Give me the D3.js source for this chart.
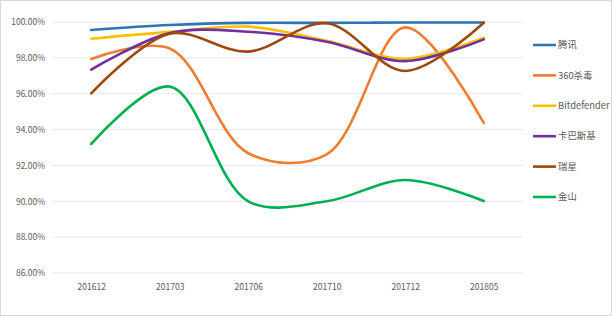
<!DOCTYPE html>
<html><head><meta charset="utf-8">
<script src="https://cdn.jsdelivr.net/npm/d3@7"></script>
<style>body{margin:0;background:#fff}svg{display:block}text{font-family:"Noto Sans CJK SC","Noto Sans",sans-serif;fill:#595959}</style>
</head><body><svg id="c" width="612" height="316"></svg>
<script>
const categories = ["201612","201703","201706","201710","201712","201805"];
const seriesNames = ["腾讯","360杀毒","Bitdefender","卡巴斯基","瑞星","金山"];
const tencent     = [99.55, 99.83, 99.95, 99.95, 99.97, 99.97];
const qihoo360    = [97.94, 98.52, 92.68, 92.62, 99.70, 94.37];
const bitdefender = [99.07, 99.45, 99.74, 98.95, 97.95, 99.12];
const kaspersky   = [97.35, 99.38, 99.46, 98.90, 97.82, 99.03];
const rising      = [96.02, 99.35, 98.35, 99.93, 97.27, 99.96];
const kingsoft    = [93.20, 96.40, 90.00, 90.00, 91.19, 90.02];
const yTicks = [86, 88, 90, 92, 94, 96, 98, 100];
const colors = ["#2E75B6","#ED7D31","#FFC000","#7030A0","#9E480E","#00B050"];
const allValues = [tencent, qihoo360, bitdefender, kaspersky, rising, kingsoft];

const svg = d3.select("#c");
svg.append("rect").attr("x",0.5).attr("y",0.5).attr("width",611).attr("height",315)
  .attr("fill","#fff").attr("stroke","#D9D9D9");

const x = d3.scalePoint().domain(categories).range([52,523]).padding(0.5);
const y = d3.scaleLinear().domain([86,100]).range([273,22]);

const grid = svg.append("g");
grid.selectAll("line").data(yTicks).join("line")
  .attr("x1",52).attr("x2",523).attr("y1",d=>y(d)).attr("y2",d=>y(d))
  .attr("stroke","#E8E8EE").attr("stroke-width",1);

const yAxis = d3.axisLeft(y).tickValues(yTicks).tickFormat(d=>d.toFixed(2)+"%").tickSize(0).tickPadding(7);
const ga = svg.append("g").attr("transform","translate(52,0)").call(yAxis);
ga.select(".domain").remove();
ga.selectAll("text").style("font-size","8.5px").attr("fill","#595959");

const xAxis = d3.axisBottom(x).tickSize(0).tickPadding(8);
const gx = svg.append("g").attr("transform","translate(0,276)").call(xAxis);
gx.select(".domain").remove();
gx.selectAll("text").style("font-size","8.5px").attr("fill","#595959");

const line = d3.line().x((d,i)=>x(categories[i])).y(d=>y(d)).curve(d3.curveCatmullRom.alpha(0.5));
svg.append("g").selectAll("path").data(allValues).join("path")
  .attr("d",d=>line(d)).attr("fill","none")
  .attr("stroke",(d,i)=>colors[i]).attr("stroke-width",2.6).attr("stroke-linecap","round");

const lg = svg.append("g");
const items = lg.selectAll("g").data(seriesNames).join("g")
  .attr("transform",(d,i)=>`translate(533,${45+i*30.4})`);
items.append("line").attr("x1",0).attr("x2",23).attr("y1",0).attr("y2",0)
  .attr("stroke",(d,i)=>colors[i]).attr("stroke-width",2.6);
items.append("text").attr("x",25).attr("y",0).attr("dy","0.35em")
  .style("font-size","9.4px").text(d=>d);
</script></body></html>
